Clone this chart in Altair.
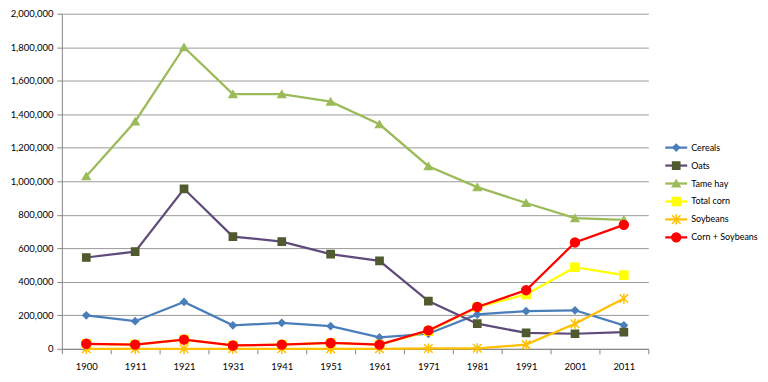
import altair as alt
import pandas as pd

years = ["1900", "1911", "1921", "1931", "1941", "1951", "1961", "1971", "1981", "1991", "2001", "2011"]
series = ["Cereals", "Oats", "Tame hay", "Total corn", "Soybeans", "Corn + Soybeans"]

cereals = [200000, 165000, 280000, 140000, 155000, 135000, 68000, 90000, 205000, 225000, 230000, 140000]
oats = [545000, 580000, 955000, 670000, 640000, 565000, 525000, 285000, 150000, 95000, 90000, 100000]
tame_hay = [1030000, 1357000, 1800000, 1520000, 1520000, 1475000, 1340000, 1090000, 965000, 870000, 780000, 770000]
total_corn = [30000, 25000, 55000, 20000, 25000, 35000, 25000, 105000, 248000, 325000, 487000, 440000]
soybeans = [0, 0, 0, 0, 0, 0, 0, 2000, 3000, 25000, 150000, 300000]
corn_soy = [30000, 25000, 55000, 20000, 25000, 35000, 25000, 110000, 250000, 350000, 635000, 740000]

values = [cereals, oats, tame_hay, total_corn, soybeans, corn_soy]

line_colors = ["#4A7EBB", "#604A7B", "#9BBB59", "#FFFF00", "#FFC000", "#FF0000"]
marker_fill = ["#4A7EBB", "#4F5A2E", "#9BBB59", "#FFFF00", "#FFC000", "#FF0000"]
marker_stroke = ["#4A7EBB", "#4F5A2E", "#9BBB59", "#FFFF00", "#FFC000", "#FF0000"]
asterisk = "M-1,-1L1,1M1,-1L-1,1M0,-1.2L0,1.2"
shapes = ["diamond", "square", "triangle-up", "square", asterisk, "circle"]
sizes = [45, 80, 60, 60, 50, 100]

rows = []
for s, vals in zip(series, values):
    for y, v in zip(years, vals):
        rows.append({"year": y, "series": s, "value": v})
df = pd.DataFrame(rows)

FONT = "Lato"
FS = 9.5

color_scale = alt.Scale(domain=series, range=line_colors)
fill_scale = alt.Scale(domain=series, range=marker_fill)
stroke_scale = alt.Scale(domain=series, range=marker_stroke)
shape_scale = alt.Scale(domain=series, range=shapes)
size_scale = alt.Scale(domain=series, range=sizes)

x_enc = alt.X(
    "year:O",
    sort=years,
    scale=alt.Scale(type="band", paddingInner=0, paddingOuter=0),
    axis=alt.Axis(
        title=None, labelAngle=0, grid=False, tickBand="extent", tickSize=5,
        tickColor="#868686", domainColor="#868686", labelPadding=8,
        labelFont=FONT, labelFontSize=FS, labelColor="#000000",
    ),
)
y_enc = alt.Y(
    "value:Q",
    scale=alt.Scale(domain=[0, 2000000], nice=False),
    axis=alt.Axis(
        title=None, values=list(range(0, 2000001, 200000)), format=",.0f",
        tickSize=5, tickColor="#868686", domainColor="#868686",
        gridColor="#9A9A9A", gridWidth=1, labelPadding=4,
        labelFont=FONT, labelFontSize=FS, labelColor="#000000",
    ),
)

base = alt.Chart(df)

layers = []
for s in series:
    sub = base.transform_filter(alt.datum.series == s)
    layers.append(sub.mark_line(strokeWidth=2.25).encode(
        x=x_enc, y=y_enc,
        color=alt.Color("series:N", scale=color_scale, legend=None),
    ))
    layers.append(sub.mark_point(filled=False, opacity=1, strokeWidth=1.5).encode(
        x=x_enc, y=y_enc,
        fill=alt.Fill("series:N", scale=fill_scale, legend=None),
        stroke=alt.Stroke("series:N", scale=stroke_scale, legend=None),
        shape=alt.Shape("series:N", scale=shape_scale, legend=None),
        size=alt.Size("series:N", scale=size_scale, legend=None),
    ))

main = alt.layer(*layers).properties(width=588, height=336)

# Legend panel
leg_df = pd.DataFrame({"series": series})
ly = alt.Y("series:N", sort=series,
           scale=alt.Scale(type="point", padding=0.5), axis=None)
lx_scale = alt.Scale(domain=[0, 97], nice=False)
leg_base = alt.Chart(leg_df)
leg_rule = leg_base.mark_rule(strokeWidth=2.25).encode(
    y=ly,
    x=alt.datum(2, scale=lx_scale, axis=None),
    x2=alt.datum(24),
    color=alt.Color("series:N", scale=color_scale, legend=None),
)
leg_pt = leg_base.mark_point(filled=False, opacity=1, strokeWidth=1.5).encode(
    y=ly,
    x=alt.datum(13, scale=lx_scale, axis=None),
    fill=alt.Fill("series:N", scale=fill_scale, legend=None),
    stroke=alt.Stroke("series:N", scale=stroke_scale, legend=None),
    shape=alt.Shape("series:N", scale=shape_scale, legend=None),
    size=alt.Size("series:N", scale=size_scale, legend=None),
)
leg_txt = leg_base.mark_text(align="left", baseline="middle", font=FONT, fontSize=9, color="#000000").encode(
    y=ly,
    x=alt.datum(28, scale=lx_scale, axis=None),
    text="series:N",
)
legend = alt.layer(leg_rule, leg_pt, leg_txt).properties(width=97, height=108)

chart = (
    alt.hconcat(main, legend, spacing=14, center=True)
    .resolve_scale(y="independent")
    .properties(padding={"left": 2, "top": 0, "right": 0, "bottom": 0})
    .configure_view(stroke=None)
)

chart.save("out.html", embed_options={"renderer": "svg", "actions": False})
